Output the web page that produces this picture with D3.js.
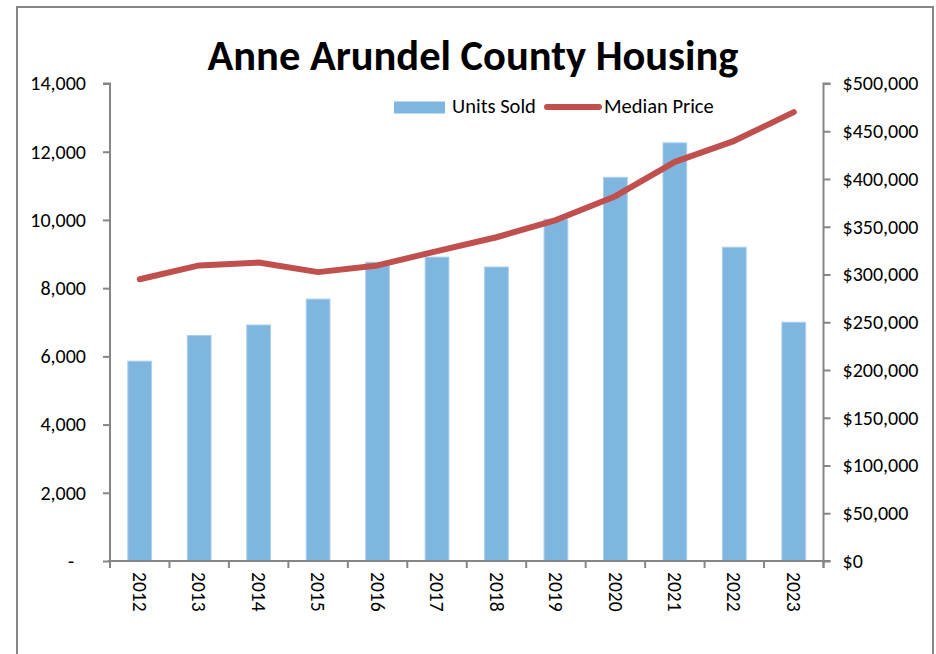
<!DOCTYPE html>
<html>
<head>
<meta charset="utf-8">
<script src="https://cdn.jsdelivr.net/npm/d3@7"></script>
<style>
  body { margin: 0; background: #fff; }
  svg text { font-family: Carlito, Calibri, Lato, sans-serif; fill: #000; }
</style>
</head>
<body>
<svg width="936" height="654"></svg>
<script>
// data
var years = ["2012","2013","2014","2015","2016","2017","2018","2019","2020","2021","2022","2023"];
var unitsSold = [5860, 6610, 6920, 7680, 8760, 8910, 8620, 10020, 11250, 12260, 9200, 7000];
var medianPrice = [295000, 309500, 312500, 302500, 309500, 324500, 339000, 357000, 382000, 418000, 440000, 470000];
var unitTicks = [0, 2000, 4000, 6000, 8000, 10000, 12000, 14000];
var priceTicks = [0, 50000, 100000, 150000, 200000, 250000, 300000, 350000, 400000, 450000, 500000];

var svg = d3.select("svg");
var axisColor = "#868686";
var plotLeft = 110, plotRight = 823.5, plotTop = 83.5, plotBottom = 561;

// outer frame
svg.append("rect")
    .attr("x", 17).attr("y", 7)
    .attr("width", 916).attr("height", 700)
    .attr("fill", "none")
    .attr("stroke", axisColor)
    .attr("stroke-width", 2);

var x = d3.scaleBand().domain(years).range([plotLeft, plotRight])
    .paddingInner(0.6).paddingOuter(0.3);
var yUnits = d3.scaleLinear().domain([0, 14000]).range([plotBottom, plotTop]);
var yPrice = d3.scaleLinear().domain([0, 500000]).range([plotBottom, plotTop]);

// title
svg.append("text")
    .attr("x", 473).attr("y", 70)
    .attr("text-anchor", "middle")
    .style("font-size", "42.5px")
    .style("font-weight", "bold")
    .text("Anne Arundel County Housing");

// bars
svg.append("g")
  .selectAll("rect")
  .data(unitsSold)
  .enter().append("rect")
    .attr("x", function(d, i) { return x(years[i]); })
    .attr("y", function(d) { return yUnits(d); })
    .attr("width", x.bandwidth())
    .attr("height", function(d) { return plotBottom - yUnits(d); })
    .attr("fill", "#7fb6e0")
    .attr("stroke", "#acd0ec")
    .attr("stroke-width", 1);

// left axis
var leftAxis = svg.append("g")
    .attr("transform", "translate(" + plotLeft + ",0)")
    .call(d3.axisLeft(yUnits).tickValues(unitTicks).tickSize(7).tickPadding(17)
      .tickFormat(function(d) { return d === 0 ? "-" : d3.format(",")(d); }));
leftAxis.selectAll("text").style("font-size", "20px")
    .attr("dx", function(d) { return d === 0 ? "-12" : 0; });

// right axis
var rightAxis = svg.append("g")
    .attr("transform", "translate(" + plotRight + ",0)")
    .call(d3.axisRight(yPrice).tickValues(priceTicks).tickSize(7).tickPadding(12)
      .tickFormat(function(d) { return "$" + d3.format(",")(d); }));
rightAxis.selectAll("text").style("font-size", "20px");

// bottom axis, ticks between categories
var step = x.step();
var xb = svg.append("g")
    .attr("transform", "translate(0," + plotBottom + ")");
xb.append("line")
    .attr("x1", plotLeft - 2).attr("x2", plotRight + 7)
    .attr("stroke", axisColor).attr("stroke-width", 2);
xb.selectAll(".tk")
  .data(d3.range(years.length + 1))
  .enter().append("line")
    .attr("x1", function(i) { return plotLeft + i * step; })
    .attr("x2", function(i) { return plotLeft + i * step; })
    .attr("y1", 0).attr("y2", 7)
    .attr("stroke", axisColor).attr("stroke-width", 2);
xb.selectAll(".yl")
  .data(years)
  .enter().append("text")
    .attr("transform", function(d) { return "translate(" + (x(d) + x.bandwidth() / 2) + ",11) rotate(90)"; })
    .attr("dy", "0.35em")
    .style("font-size", "19.5px")
    .text(function(d) { return d; });

[leftAxis, rightAxis].forEach(function(g) {
  g.select(".domain").attr("stroke", axisColor).attr("stroke-width", 2);
  g.selectAll(".tick line").attr("stroke", axisColor).attr("stroke-width", 2);
});
leftAxis.select(".domain").attr("d", "M-7," + plotTop + "H0V" + (plotBottom + 7));
rightAxis.select(".domain").attr("d", "M7," + plotTop + "H0V" + (plotBottom + 7));

// price line
var line = d3.line()
    .x(function(d, i) { return x(years[i]) + x.bandwidth() / 2; })
    .y(function(d) { return yPrice(d); });
svg.append("path")
    .datum(medianPrice)
    .attr("d", line)
    .attr("fill", "none")
    .attr("stroke", "#c0504d")
    .attr("stroke-width", 6)
    .attr("stroke-linejoin", "round")
    .attr("stroke-linecap", "round");

// legend
var lg = svg.append("g");
lg.append("rect")
    .attr("x", 394).attr("y", 101.5).attr("width", 51).attr("height", 12)
    .attr("fill", "#7fb6e0");
lg.append("text").attr("x", 452).attr("y", 113).style("font-size", "20.5px").text("Units Sold");
lg.append("line")
    .attr("x1", 547).attr("x2", 599).attr("y1", 107).attr("y2", 107)
    .attr("stroke", "#c0504d").attr("stroke-width", 6).attr("stroke-linecap", "round");
lg.append("text").attr("x", 604).attr("y", 113).style("font-size", "20.5px").text("Median Price");
</script>
</body>
</html>
